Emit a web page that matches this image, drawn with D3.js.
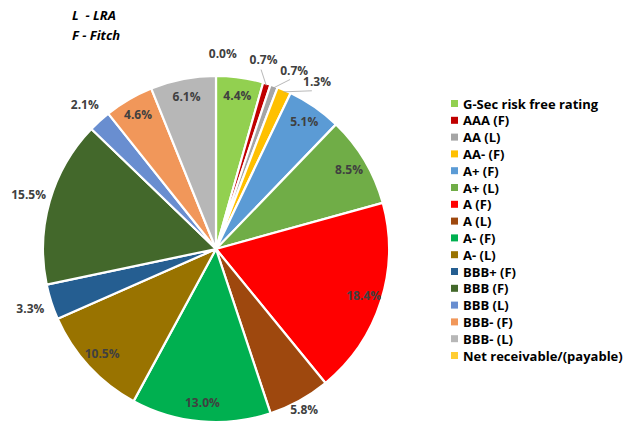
<!DOCTYPE html>
<html>
<head>
<meta charset="utf-8">
<script src="https://cdn.jsdelivr.net/npm/d3@7"></script>
<style>
    body { margin: 0; background: #fff; }
    svg { display: block; font-family: "Open Sans", Lato, sans-serif; }
</style>
</head>
<body>
<div id="chart"></div>
<script>
// Rating categories (legend order == slice order, clockwise from 12 o'clock)
const categories = [
    'G-Sec risk free rating', 'AAA (F)', 'AA (L)', 'AA- (F)', 'A+ (F)', 'A+ (L)',
    'A (F)', 'A (L)', 'A- (F)', 'A- (L)', 'BBB+ (F)', 'BBB (F)', 'BBB (L)',
    'BBB- (F)', 'BBB- (L)', 'Net receivable/(payable)'
];
const values = [4.4, 0.7, 0.7, 1.3, 5.1, 8.5, 18.4, 5.8, 13.0, 10.5, 3.3, 15.5, 2.1, 4.6, 6.1, 0.0];
const colors = [
    '#92D050', '#C00000', '#A5A5A5', '#FFC000', '#5B9BD5', '#70AD47',
    '#FF0000', '#9E480E', '#00B050', '#997300', '#255E91', '#43682B',
    '#698ED0', '#F1975A', '#B7B7B7', '#FFCD33'
];
const notes = ['L  - LRA', 'F - Fitch'];

// which labels sit outside the pie, and small angle nudges (deg) to spread them
const outside = new Set(['AAA (F)', 'AA (L)', 'AA- (F)', 'A (L)', 'BBB+ (F)', 'BBB (F)', 'BBB (L)', 'Net receivable/(payable)']);
const nudge = { 'AAA (F)': -3, 'AA (L)': 4, 'AA- (F)': 8, 'Net receivable/(payable)': 2 };
const leaders = new Set(['AAA (F)', 'AA (L)', 'AA- (F)']);

const width = 624, height = 423;
const cx = 216, cy = 249, R = 173;

const svg = d3.select('#chart').append('svg')
    .attr('width', width)
    .attr('height', height);

// key notes
svg.append('g').selectAll('text')
    .data(notes)
    .enter().append('text')
    .attr('x', 72)
    .attr('y', (d, i) => 20 + i * 20)
    .attr('font-size', '13px')
    .attr('font-weight', 'bold')
    .attr('font-style', 'italic')
    .attr('fill', '#000')
    .style('white-space', 'pre')
    .text(d => d);

const data = categories.map((c, i) => ({ name: c, value: values[i], color: colors[i] }));

const pie = d3.pie().value(d => d.value).sort(null);
const arcs = pie(data);
const arc = d3.arc().innerRadius(0).outerRadius(R);

const g = svg.append('g').attr('transform', `translate(${cx},${cy})`);

g.selectAll('path')
    .data(arcs.filter(d => d.data.value > 0))
    .enter().append('path')
    .attr('d', arc)
    .attr('fill', d => d.data.color)
    .attr('stroke', '#fff')
    .attr('stroke-width', 2.2)
    .attr('stroke-linejoin', 'round');

const mid = d => (d.startAngle + d.endAngle) / 2;
const polar = (a, r) => [r * Math.sin(a), -r * Math.cos(a)];

// leader lines for the tiny slices
g.selectAll('line.leader')
    .data(arcs.filter(d => leaders.has(d.data.name)))
    .enter().append('line')
    .attr('class', 'leader')
    .attr('x1', d => polar(mid(d), R - 2)[0])
    .attr('y1', d => polar(mid(d), R - 2)[1])
    .attr('x2', d => polar(mid(d) + (nudge[d.data.name] || 0) * Math.PI / 180, R + 12)[0])
    .attr('y2', d => polar(mid(d) + (nudge[d.data.name] || 0) * Math.PI / 180, R + 12)[1])
    .attr('stroke', '#a6a6a6')
    .attr('stroke-width', 0.8);

// data labels
g.selectAll('text.lbl')
    .data(arcs)
    .enter().append('text')
    .attr('class', 'lbl')
    .attr('transform', d => {
        const isOut = outside.has(d.data.name);
        const a = mid(d) + (nudge[d.data.name] || 0) * Math.PI / 180;
        const r = isOut ? (d.data.name === 'A (L)' ? R + 10 : R + 22) : R * 0.895;
        const [x, y] = polar(a, r);
        return `translate(${x},${y})`;
    })
    .attr('text-anchor', 'middle')
    .attr('dy', '0.35em')
    .attr('font-size', '12px')
    .attr('font-weight', 'bold')
    .attr('fill', '#404040')
    .text(d => d3.format('.1f')(d.data.value) + '%');

// legend
const legend = svg.append('g')
    .attr('transform', 'translate(451,104)')
    .selectAll('g')
    .data(data)
    .enter().append('g')
    .attr('transform', (d, i) => `translate(0,${i * 16.8})`);

legend.append('rect')
    .attr('x', 0)
    .attr('y', -4)
    .attr('width', 7)
    .attr('height', 7)
    .attr('fill', d => d.color);

legend.append('text')
    .attr('x', 12)
    .attr('y', 0)
    .attr('dy', '0.35em')
    .attr('font-size', '13px')
    .attr('font-weight', 'bold')
    .attr('fill', '#000')
    .text(d => d.name);
</script>
</body>
</html>
